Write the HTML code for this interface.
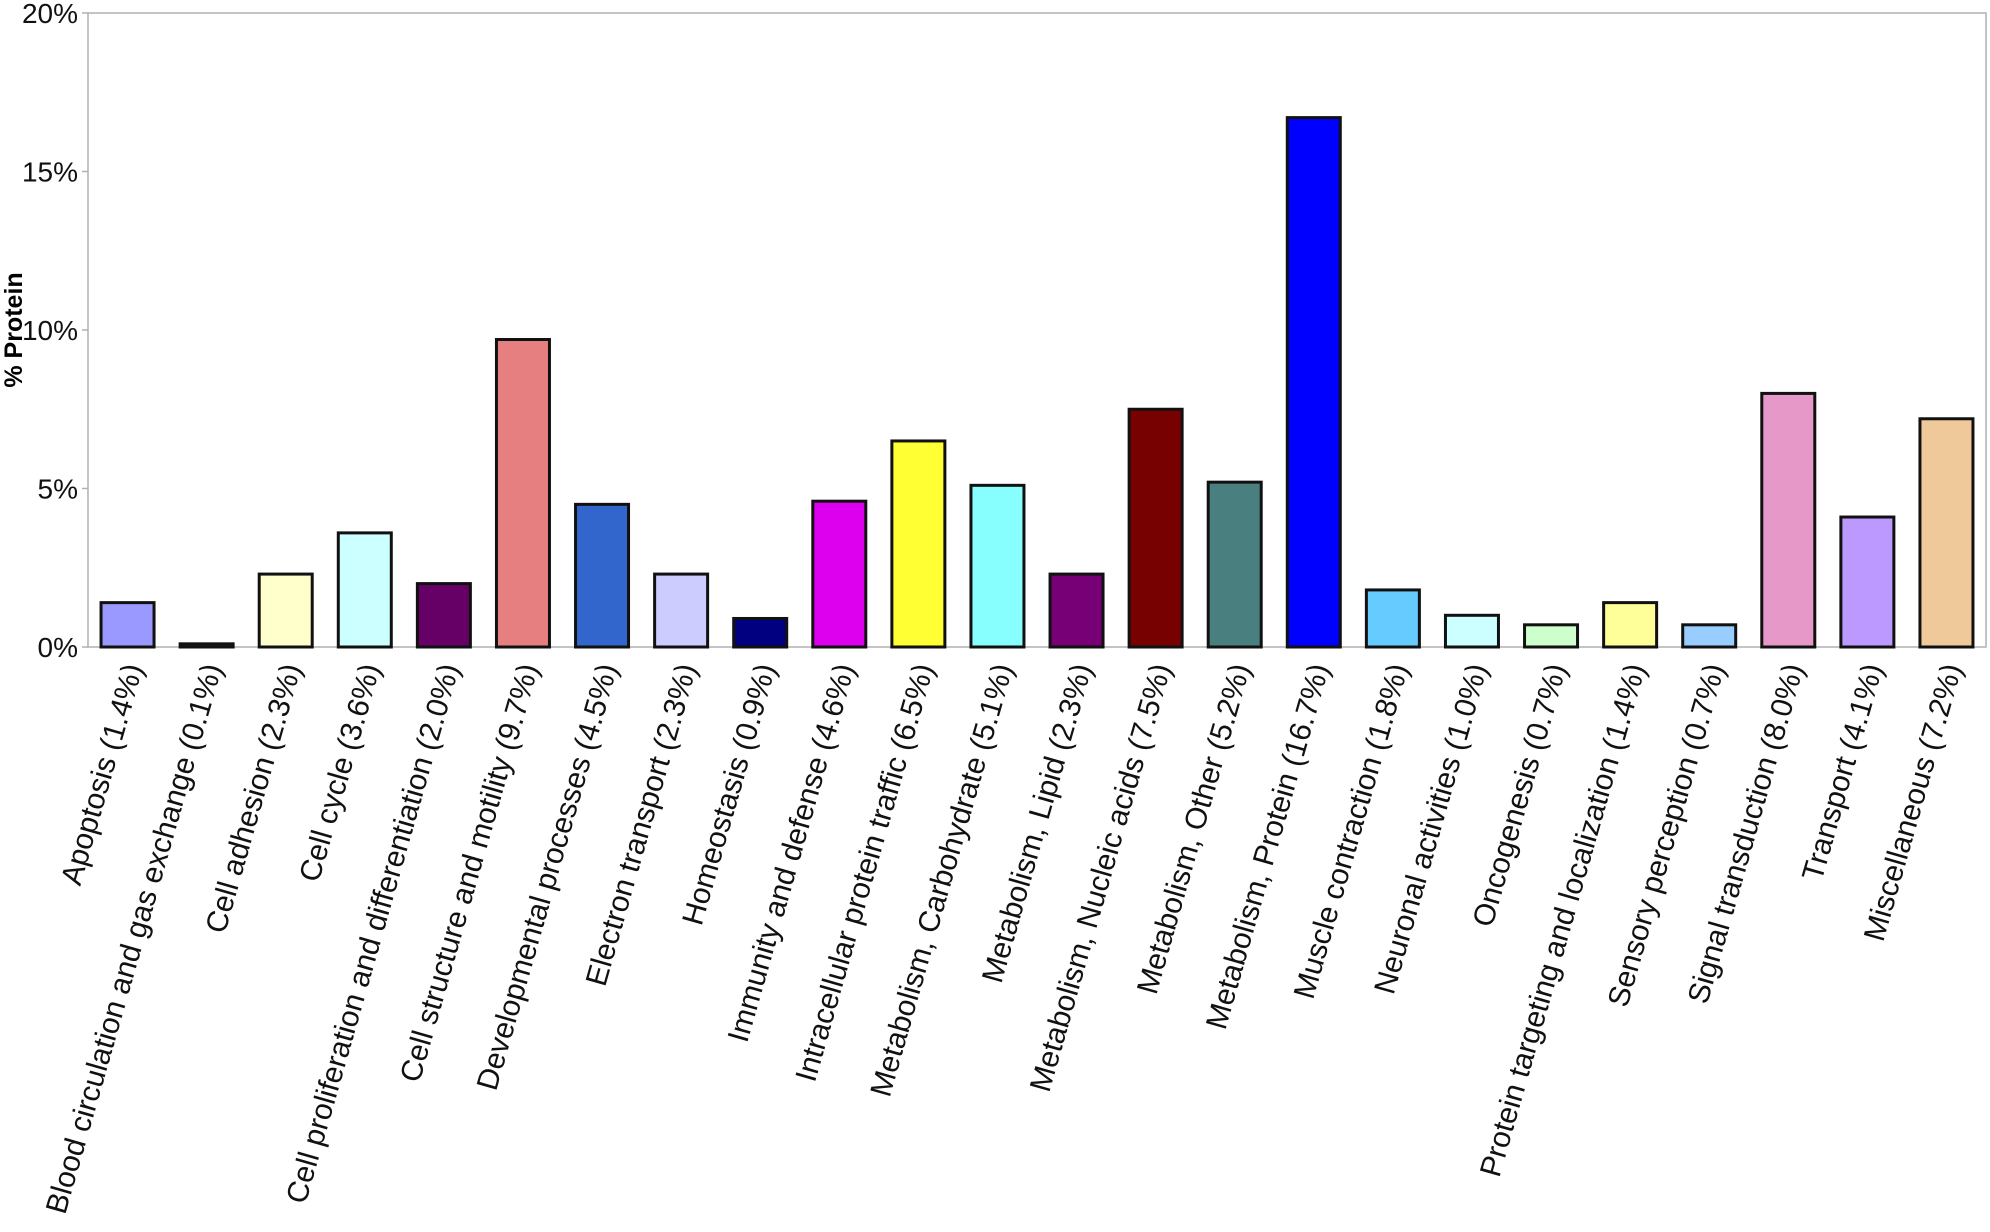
<!DOCTYPE html>
<html><head><meta charset="utf-8"><style>
html,body{margin:0;padding:0;background:#fff}
svg{display:block;font-family:"Liberation Sans",Arial,sans-serif}
</style></head><body>
<svg id="chart" width="1990" height="1232" xmlns="http://www.w3.org/2000/svg"></svg>
<script>
const categories=["Apoptosis (1.4%)","Blood circulation and gas exchange (0.1%)","Cell adhesion (2.3%)","Cell cycle (3.6%)","Cell proliferation and differentiation (2.0%)","Cell structure and motility (9.7%)","Developmental processes (4.5%)","Electron transport (2.3%)","Homeostasis (0.9%)","Immunity and defense (4.6%)","Intracellular protein traffic (6.5%)","Metabolism, Carbohydrate (5.1%)","Metabolism, Lipid (2.3%)","Metabolism, Nucleic acids (7.5%)","Metabolism, Other (5.2%)","Metabolism, Protein (16.7%)","Muscle contraction (1.8%)","Neuronal activities (1.0%)","Oncogenesis (0.7%)","Protein targeting and localization (1.4%)","Sensory perception (0.7%)","Signal transduction (8.0%)","Transport (4.1%)","Miscellaneous (7.2%)"];
const values=[1.4,0.1,2.3,3.6,2.0,9.7,4.5,2.3,0.9,4.6,6.5,5.1,2.3,7.5,5.2,16.7,1.8,1.0,0.7,1.4,0.7,8.0,4.1,7.2];
const colors=["#9999ff","#222222","#ffffcc","#ccffff","#660066","#e68080","#3366cc","#ccccff","#000080","#dd00ee","#ffff33","#88ffff","#770077","#770000","#4a7f7f","#0000ff","#66ccff","#ccffff","#ccffcc","#ffff99","#99ccff","#e699c8","#bb99ff","#f0c99b"];
const yTicks=[0,5,10,15,20];
const yTickLabels=["0%","5%","10%","15%","20%"];

const NS="http://www.w3.org/2000/svg";
const svg=document.getElementById('chart');
const L=88,R=1986,T=13,B=647,YMAX=20;
const cw=(R-L)/categories.length;
function y(v){return B-(v/YMAX)*(B-T);}
function x(i){return L+cw*(i+0.5);}
function mk(tag,attrs){const e=document.createElementNS(NS,tag);for(const k in attrs)e.setAttribute(k,attrs[k]);svg.appendChild(e);return e;}

const frame=mk('rect',{x:L,y:T,width:R-L,height:B-T,fill:'none',stroke:'#b0b0b0','stroke-width':1.5});



yTicks.forEach((t,i)=>{
  const tk=mk('line',{x1:L-6,x2:L,y1:y(t),y2:y(t),stroke:'#b0b0b0','stroke-width':1.5});
  
  
  const tx=mk('text',{x:L-10,y:y(t)+10,'text-anchor':'end','font-size':28,fill:'#111'});
  tx.textContent=yTickLabels[i];
  
  
});

const yt=mk('text',{x:0,y:0,transform:'translate(22,330) rotate(-90)','text-anchor':'middle','font-size':25,'font-weight':'bold',fill:'#000'});
yt.textContent='% Protein';



const bw=53;
values.forEach((v,i)=>{
  const b=mk('rect',{x:x(i)-bw/2,y:y(v),width:bw,height:B-y(v),fill:colors[i],stroke:'#111','stroke-width':3});
  
  
  const lb=mk('text',{x:0,y:0,transform:`translate(${x(i)+8},${B+18}) rotate(-74)`,'text-anchor':'end','dominant-baseline':'middle','font-size':30,fill:'#111'});
  lb.textContent=categories[i];
  
  
});
</script>
</body></html>
